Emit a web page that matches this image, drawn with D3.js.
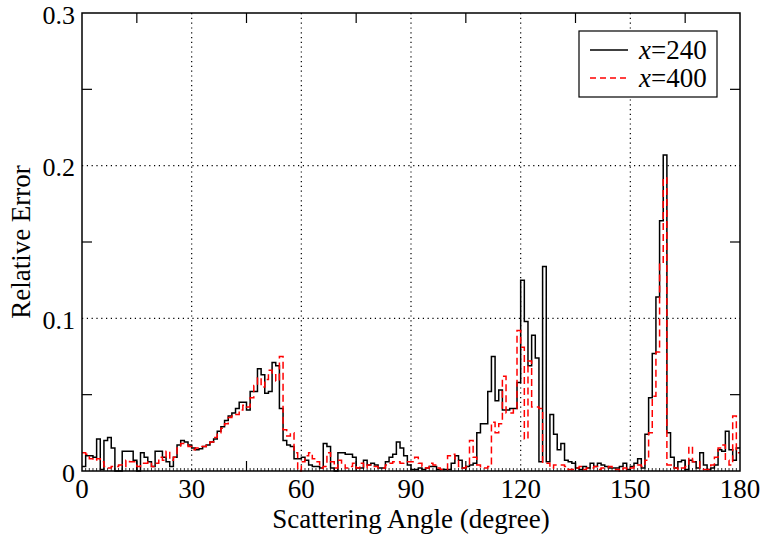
<!DOCTYPE html>
<html><head><meta charset="utf-8">
<script src="https://cdn.jsdelivr.net/npm/d3@7"></script>
<style>body{margin:0;background:#fff}svg{display:block}</style>
</head><body>
<script>
const series240 = [0.003,0.010,0.010,0.009,0.021,0.001,0.020,0.022,0.015,0.000,
0.000,0.013,0.013,0.013,0.007,0.000,0.012,0.009,0.006,0.003,
0.013,0.013,0.009,0.006,0.003,0.009,0.017,0.020,0.019,0.017,
0.015,0.014,0.0145,0.016,0.017,0.019,0.021,0.026,0.029,0.033,
0.036,0.038,0.041,0.045,0.045,0.040,0.052,0.052,0.067,0.063,
0.051,0.052,0.071,0.069,0.041,0.020,0.017,0.016,0.008,0.008,
0.009,0.007,0.004,0.003,0.003,0.002,0.018,0.016,0.002,0.000,
0.012,0.012,0.011,0.011,0.009,0.002,0.002,0.007,0.004,0.005,
0.004,0.002,0.002,0.006,0.009,0.011,0.019,0.015,0.010,0.004,
0.001,0.001,0.002,0.001,0.002,0.003,0.003,0.001,0.001,0.001,
0.001,0.005,0.010,0.007,0.002,0.003,0.004,0.005,0.025,0.031,
0.031,0.052,0.075,0.046,0.053,0.040,0.040,0.041,0.041,0.058,
0.125,0.098,0.069,0.089,0.074,0.006,0.134,0.006,0.037,0.024,
0.014,0.018,0.007,0.006,0.005,0.002,0.001,0.003,0.002,0.005,
0.003,0.005,0.004,0.003,0.002,0.002,0.002,0.003,0.005,0.001,
0.003,0.005,0.008,0.002,0.024,0.048,0.077,0.114,0.164,0.207,
0.025,0.009,0.002,0.006,0.007,0.001,0.007,0.006,0.002,0.012,
0.004,0.001,0.002,0.004,0.014,0.013,0.026,0.014,0.007,0.015];
const series400 = [0.012,0.011,0.008,0.007,0.008,0.006,0.003,0.002,0.003,0.003,
0.004,0.003,0.007,0.006,0.006,0.003,0.005,0.005,0.006,0.003,
0.005,0.009,0.007,0.013,0.007,0.009,0.015,0.018,0.018,0.016,
0.014,0.015,0.016,0.016,0.018,0.019,0.022,0.025,0.028,0.031,
0.035,0.037,0.037,0.040,0.043,0.042,0.048,0.056,0.061,0.055,
0.060,0.066,0.063,0.059,0.075,0.027,0.023,0.025,0.012,0.000,
0.006,0.010,0.012,0.008,0.006,0.002,0.003,0.012,0.006,0.002,
0.007,0.004,0.002,0.003,0.005,0.002,0.005,0.002,0.004,0.003,
0.003,0.002,0.002,0.004,0.005,0.006,0.006,0.005,0.006,0.006,
0.006,0.009,0.005,0.003,0.002,0.005,0.004,0.002,0.001,0.001,
0.010,0.011,0.008,0.003,0.002,0.003,0.020,0.009,0.004,0.002,
0.002,0.003,0.032,0.025,0.031,0.062,0.038,0.038,0.041,0.092,
0.081,0.021,0.072,0.042,0.042,0.041,0.005,0.005,0.002,0.004,
0.004,0.004,0.003,0.001,0.001,0.002,0.003,0.001,0.002,0.002,
0.003,0.001,0.002,0.002,0.003,0.001,0.001,0.000,0.002,0.001,
0.002,0.003,0.004,0.003,0.007,0.025,0.049,0.078,0.136,0.192,
0.004,0.004,0.002,0.001,0.002,0.003,0.016,0.006,0.006,0.002,
0.001,0.001,0.004,0.009,0.015,0.017,0.007,0.004,0.036,0.012];
const xTicks = [0,30,60,90,120,150,180];
const xMinorTicks = [15,45,75,105,135,165];
const yTicks = [0,0.1,0.2,0.3];
const yMinorTicks = [0.05,0.15,0.25];
const legendLabels = ["240","400"];

const FONT = "'Liberation Serif', 'Times New Roman', Times, 'DejaVu Serif', serif";
const W=763,H=539, L=82,R=740,T=13,B=471;
const svg=d3.select("body").append("svg").attr("width",W).attr("height",H)
  .attr("font-family",FONT).style("font-family",FONT);
const x=d3.scaleLinear().domain([0,180]).range([L,R]);
const y=d3.scaleLinear().domain([0,0.3]).range([B,T]);

// grid
const grid=svg.append("g").attr("stroke","#000").attr("stroke-width",1.2).attr("stroke-dasharray","1.2,3.6");
grid.selectAll("line.gx").data(xTicks.slice(1,-1)).join("line").attr("x1",d=>x(d)).attr("x2",d=>x(d)).attr("y1",T).attr("y2",B);
grid.selectAll("line.gy").data(yTicks.slice(1,-1)).join("line").attr("x1",L).attr("x2",R).attr("y1",d=>y(d)).attr("y2",d=>y(d));

// minor ticks
const tk=svg.append("g").attr("stroke","#000").attr("stroke-width",1.2);
xMinorTicks.forEach(d=>{
  tk.append("line").attr("x1",x(d)).attr("x2",x(d)).attr("y1",B).attr("y2",B-10);
  tk.append("line").attr("x1",x(d)).attr("x2",x(d)).attr("y1",T).attr("y2",T+10);
});
yMinorTicks.forEach(d=>{
  tk.append("line").attr("x1",L).attr("x2",L+10).attr("y1",y(d)).attr("y2",y(d));
  tk.append("line").attr("x1",R).attr("x2",R-10).attr("y1",y(d)).attr("y2",y(d));
});
d3.range(1,180).forEach(d=>{
  tk.append("line").attr("x1",x(d)).attr("x2",x(d)).attr("y1",B).attr("y2",B-3).attr("stroke-width",0.8);
});

function pts(arr){const p=arr.map((v,i)=>[i,v]);p.push([180,arr[arr.length-1]]);return p;}
const line=d3.line().x(d=>x(d[0])).y(d=>y(d[1])).curve(d3.curveStepAfter);
const plot=svg.append("g");
plot.append("path").attr("d",line(pts(series240))).attr("fill","none").attr("stroke","#000").attr("stroke-width",1.5);
plot.append("path").attr("d",line(pts(series400))).attr("fill","none").attr("stroke","#ff0000").attr("stroke-width",1.5).attr("stroke-dasharray","7,4");

// frame
svg.append("rect").attr("x",L).attr("y",T).attr("width",R-L).attr("height",B-T).attr("fill","none").attr("stroke","#000").attr("stroke-width",1.5);

// tick labels
const fs=27, tfs=26;
svg.append("g").selectAll("text").data(xTicks).join("text").attr("x",d=>x(d)).attr("y",B+27).attr("text-anchor","middle").attr("font-size",fs).text(d=>d);
svg.append("g").selectAll("text").data(yTicks).join("text").attr("x",L-7).attr("y",d=>y(d)+10.5).attr("text-anchor","end").attr("font-size",tfs).text(d=>d===0?"0":d.toFixed(1));

svg.append("text").attr("x",(L+R)/2).attr("y",528).attr("text-anchor","middle").attr("font-size",fs).text("Scattering Angle (degree)");
svg.append("text").attr("transform",`translate(30,${(T+B)/2}) rotate(-90)`).attr("text-anchor","middle").attr("font-size",fs).text("Relative Error");

// legend
const lg=svg.append("g");
lg.append("rect").attr("x",579).attr("y",31).attr("width",138).attr("height",66).attr("fill","#fff").attr("stroke","#000").attr("stroke-width",1.2);
const lcol=["#000","#ff0000"], ldash=[null,"6,4"];
legendLabels.forEach((lab,i)=>{
  const yy=50+i*28;
  lg.append("line").attr("x1",590).attr("x2",628).attr("y1",yy).attr("y2",yy).attr("stroke",lcol[i]).attr("stroke-width",1.3).attr("stroke-dasharray",ldash[i]);
  const t=lg.append("text").attr("x",639).attr("y",yy+9).attr("font-size",fs);
  t.append("tspan").attr("font-style","italic").text("x");
  t.append("tspan").text("="+lab);
});
</script>
</body></html>
